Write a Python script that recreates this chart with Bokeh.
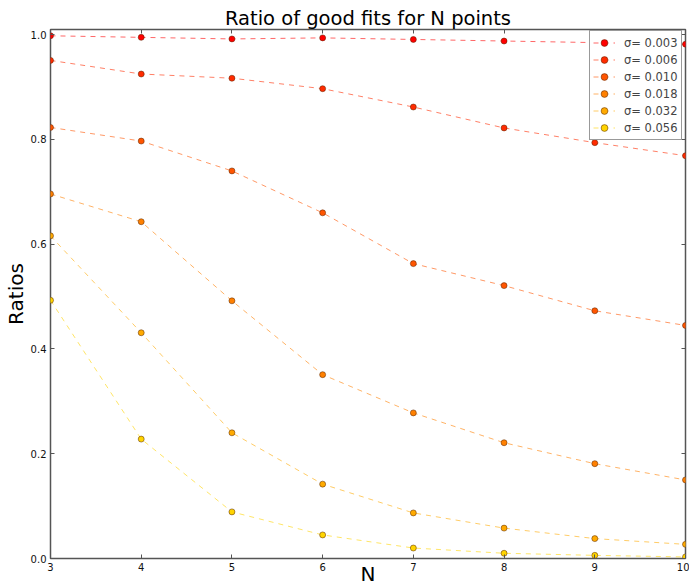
from bokeh.plotting import figure
from bokeh.models import (Range1d, FixedTicker, LinearAxis, Legend, LegendItem,
                          ColumnDataSource, CustomJSTickFormatter)
from bokeh.embed import file_html
from bokeh.resources import INLINE

# ---- data ----
N = [3, 4, 5, 6, 7, 8, 9, 10]
sigmas = ["0.003", "0.006", "0.010", "0.018", "0.032", "0.056"]
r_003 = [0.998, 0.995, 0.992, 0.994, 0.991, 0.988, 0.985, 0.982]
r_006 = [0.951, 0.925, 0.917, 0.897, 0.862, 0.822, 0.794, 0.769]
r_010 = [0.823, 0.797, 0.740, 0.660, 0.563, 0.521, 0.473, 0.445]
r_018 = [0.696, 0.643, 0.492, 0.351, 0.278, 0.221, 0.181, 0.150]
r_032 = [0.616, 0.431, 0.240, 0.142, 0.087, 0.058, 0.038, 0.027]
r_056 = [0.493, 0.228, 0.089, 0.045, 0.020, 0.010, 0.006, 0.003]
series = [r_003, r_006, r_010, r_018, r_032, r_056]
colors = ["#ff0000", "#ff2b00", "#ff5500", "#ff8000", "#ffaa00", "#ffd400"]
x_ticks = [3, 4, 5, 6, 7, 8, 9, 10]
y_ticks = [0.0, 0.2, 0.4, 0.6, 0.8, 1.0]

FONT = "DejaVu Sans"
AX = "#555555"

p = figure(width=689, height=588, output_backend="svg", toolbar_location=None,
           x_range=Range1d(3, 10), y_range=Range1d(0, 1.01),
           min_border_left=50, min_border_right=4, min_border_top=29, min_border_bottom=30)
p.title.text = "Ratio of good fits for N points"
p.title.text_font = FONT
p.title.text_font_size = "19.5px"
p.title.text_font_style = "normal"
p.title.text_color = "#000000"
p.title.align = "center"
p.title.offset = 3
p.title.standoff = 0
p.xgrid.visible = False
p.ygrid.visible = False
p.outline_line_color = AX
p.outline_line_width = 1.5
p.background_fill_color = "white"
p.border_fill_color = "white"

for ax in (p.xaxis[0], p.yaxis[0]):
    ax.axis_line_color = None
    ax.major_tick_in = 4
    ax.major_tick_out = 0
    ax.minor_tick_line_color = None
    ax.major_tick_line_color = AX
    ax.major_label_text_font = FONT
    ax.major_label_text_font_size = "10px"
    ax.major_label_text_color = "#111111"
    ax.major_label_standoff = 4
    ax.axis_label_text_font = FONT
    ax.axis_label_text_font_size = "20px"
    ax.axis_label_text_font_style = "normal"
    ax.axis_label_text_color = "#000000"
p.xaxis[0].ticker = FixedTicker(ticks=x_ticks)
p.yaxis[0].ticker = FixedTicker(ticks=y_ticks)
p.yaxis[0].formatter = CustomJSTickFormatter(code="return tick.toFixed(1);")
p.yaxis[0].axis_label = "Ratios"
p.yaxis[0].axis_label_standoff = 0
p.xaxis[0].axis_label = "N"
p.xaxis[0].axis_label_standoff = -12

# mirrored ticks on top/right (no labels drawn)
top = LinearAxis(ticker=FixedTicker(ticks=x_ticks), axis_line_color=None,
                 major_tick_in=4, major_tick_out=0, minor_tick_line_color=None,
                 major_tick_line_color=AX, major_label_text_font_size="1px",
                 major_label_text_color=None, major_label_standoff=0)
right = LinearAxis(ticker=FixedTicker(ticks=y_ticks), axis_line_color=None,
                   major_tick_in=4, major_tick_out=0, minor_tick_line_color=None,
                   major_tick_line_color=AX, major_label_text_font_size="1px",
                   major_label_text_color=None, major_label_standoff=0)
p.add_layout(top, "above")
p.add_layout(right, "right")

items = []
for s, ys, c in zip(sigmas, series, colors):
    src = ColumnDataSource(dict(x=N, y=ys))
    ln = p.line("x", "y", source=src, line_color=c, line_alpha=0.6,
                line_width=1, line_dash="5 5")
    sc = p.scatter("x", "y", source=src, size=6, fill_color=c,
                   line_color="#552200", line_width=0.5)
    items.append(LegendItem(label="σ= " + s, renderers=[ln, sc]))

legend = Legend(items=items, location=(539, 418), label_text_font=FONT,
                label_text_font_size="11.5px", label_height=17, glyph_height=17,
                glyph_width=22, spacing=0, padding=3, margin=0,
                border_line_color="#333333", border_line_width=1,
                background_fill_alpha=1.0, label_standoff=9)
p.add_layout(legend, "center")

open("out.html", "w").write(file_html(p, INLINE))
